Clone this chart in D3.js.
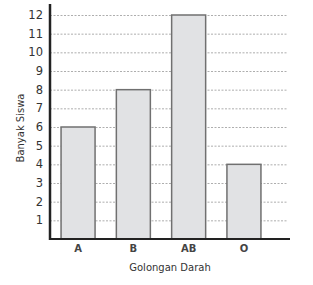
<!DOCTYPE html>
<html>
<head>
<meta charset="utf-8">
<script src="https://cdn.jsdelivr.net/npm/d3@7"></script>
<style>
  body { margin: 0; background: #fff; }
  text { font-family: "DejaVu Sans", sans-serif; fill: #333; }
</style>
</head>
<body>
<svg width="313" height="285"></svg>
<script>
var categories = ["A", "B", "AB", "O"];
var values = [6, 8, 12, 4];
var yTicks = [1, 2, 3, 4, 5, 6, 7, 8, 9, 10, 11, 12];

var svg = d3.select("svg"),
    plotLeft = 50, plotBottom = 239, plotTop = 15, plotRight = 272;

var x = d3.scaleBand()
    .domain(categories)
    .range([plotLeft, plotRight])
    .paddingInner(0.385)
    .paddingOuter(0.2);

var y = d3.scaleLinear()
    .domain([0, 12])
    .range([plotBottom, plotTop]);

// grid lines
svg.append("g").selectAll("line")
  .data(yTicks)
  .enter().append("line")
    .attr("x1", plotLeft)
    .attr("x2", 287)
    .attr("y1", function(d) { return y(d) + 0.5; })
    .attr("y2", function(d) { return y(d) + 0.5; })
    .attr("stroke", "#999")
    .attr("stroke-width", 0.8)
    .attr("stroke-dasharray", "2,1.5");

// bars
svg.append("g").selectAll("rect")
  .data(values)
  .enter().append("rect")
    .attr("x", function(d, i) { return x(categories[i]); })
    .attr("width", x.bandwidth())
    .attr("y", function(d) { return y(d); })
    .attr("height", function(d) { return plotBottom - y(d); })
    .attr("fill", "#e1e2e4")
    .attr("stroke", "#707070")
    .attr("stroke-width", 1.5);

// axes lines
svg.append("line")
    .attr("x1", plotLeft).attr("x2", plotLeft)
    .attr("y1", 4).attr("y2", plotBottom + 1)
    .attr("stroke", "#222").attr("stroke-width", 2.5);
svg.append("line")
    .attr("x1", plotLeft - 1).attr("x2", 290)
    .attr("y1", plotBottom).attr("y2", plotBottom)
    .attr("stroke", "#222").attr("stroke-width", 2.2);

// y tick labels
svg.append("g").selectAll("text")
  .data(yTicks)
  .enter().append("text")
    .attr("x", 43)
    .attr("y", function(d) { return y(d); })
    .attr("dy", "0.36em")
    .attr("text-anchor", "end")
    .style("font-size", "11.5px")
    .text(function(d) { return d; });

// x labels
svg.append("g").selectAll("text")
  .data(categories)
  .enter().append("text")
    .attr("x", function(d) { return x(d) + x.bandwidth() / 2; })
    .attr("y", 252)
    .attr("text-anchor", "middle")
    .style("font-size", "10px")
    .style("font-weight", "bold")
    .style("fill", "#444")
    .text(function(d) { return d; });

svg.append("text")
    .attr("x", 170)
    .attr("y", 271)
    .attr("text-anchor", "middle")
    .style("font-size", "10px")
    .text("Golongan Darah");

svg.append("text")
    .attr("transform", "translate(24,128) rotate(-90)")
    .attr("text-anchor", "middle")
    .style("font-size", "10px")
    .text("Banyak Siswa");
</script>
</body>
</html>
